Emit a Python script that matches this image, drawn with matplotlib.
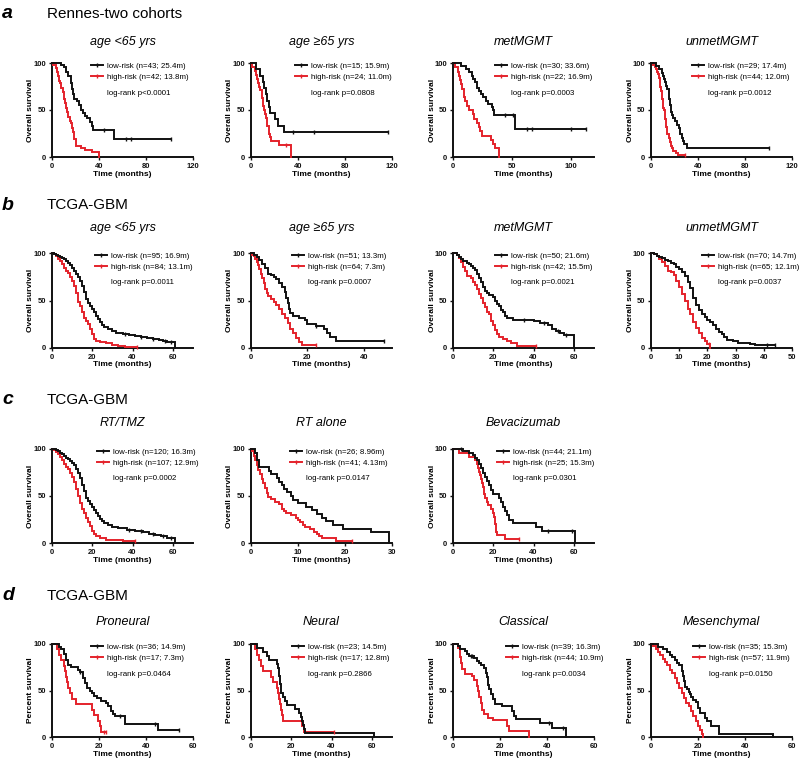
import numpy as np
import matplotlib
matplotlib.use("Agg")
import matplotlib.pyplot as plt
from matplotlib.lines import Line2D

plt.rcParams['font.family'] = ['Liberation Sans', 'DejaVu Sans']

# ---------------- data (time in months, survival in %) ----------------
# Row a: Rennes-two cohorts
a1_low_t = [8, 10, 12, 14, 16, 17, 18, 19, 21, 23, 25, 26, 28, 30, 32, 34, 35, 53]
a1_low_s = [97.7, 95.3, 90.7, 86, 79, 72, 67, 62, 60, 55, 50, 46.5, 44, 41, 37, 33, 29, 19.5]
a1_low_c = [44, 63, 67, 101]
a1_high_t = [1, 3, 4, 5, 6, 7, 8, 9, 10, 11, 12, 13, 14, 15, 16, 17, 18, 19, 20, 25, 28, 34, 40]
a1_high_s = [97.6, 95.2, 90.5, 85.7, 81, 78.6, 73.8, 69, 61.9, 57.1, 52.4, 47.6, 42.9, 38.1, 35.7, 31, 26.2, 19, 11.9, 9.5, 7.1, 4.8, 0]
a1_high_c = []

a2_low_t = [4, 8, 10, 11, 12.5, 13.5, 15, 16, 20, 23, 28]
a2_low_s = [93.3, 86.7, 80, 73.3, 66.7, 60, 53.3, 46.7, 40, 33.3, 26.7]
a2_low_c = [36, 54, 117]
a2_high_t = [1, 3, 4, 5, 6, 7, 8, 9, 9.5, 10, 10.5, 11, 12, 13, 13.5, 14, 15, 15.5, 16, 17, 24, 34]
a2_high_s = [95.8, 91.7, 87.5, 83.3, 79.2, 75, 70.8, 66.7, 62.5, 58.3, 54.2, 50, 45.8, 41.7, 37.5, 33.3, 29.2, 25, 20.8, 16.7, 12.5, 0]
a2_high_c = [30]

a3_low_t = [7, 11, 14, 16, 17, 18.5, 20, 22, 24, 25.5, 28, 30, 33, 34, 35, 53]
a3_low_s = [96.7, 93.3, 90, 86.7, 83.3, 80, 73.3, 70, 66.7, 63.3, 60, 56.7, 53.3, 50, 44.4, 29.6]
a3_low_c = [44, 51, 63, 67, 100, 113]
a3_high_t = [2, 4, 5, 6, 7, 8, 9, 9.5, 10, 12, 14, 17, 18, 20, 22, 23, 25, 32, 34, 36, 39]
a3_high_s = [95.5, 90.9, 86.4, 81.8, 77.3, 72.7, 68.2, 63.6, 59.1, 54.5, 50, 45.5, 40.9, 36.4, 31.8, 27.3, 22.7, 18.2, 13.6, 9.1, 0]
a3_high_c = []

a4_low_t = [4, 7, 9, 10, 11, 12, 13, 14, 15, 15.5, 16, 16.5, 17.4, 18, 19, 20, 22, 24, 25, 26, 27, 28, 31]
a4_low_s = [96.6, 93.1, 89.7, 86.2, 82.8, 79.3, 75.9, 72.4, 69, 62.1, 58.6, 55.2, 48.3, 44.8, 41.4, 37.9, 34.5, 31, 24.1, 20.7, 17.2, 13.8, 9.6]
a4_low_c = [100]
a4_high_t = [2, 3, 4, 5, 6, 7, 7.5, 8, 8.5, 9, 9.5, 10, 10.5, 11, 11.5, 12, 12.5, 13, 13.5, 14, 15, 16, 17, 18, 19, 21, 23]
a4_high_s = [97.7, 95.5, 93.2, 90.9, 88.6, 84.1, 79.5, 75, 70.5, 65.9, 61.4, 56.8, 52.3, 50, 45.5, 40.9, 36.4, 31.8, 29.5, 25, 20.5, 15.9, 11.4, 9.1, 6.8, 4.5, 2.3]
a4_high_c = [29]

# Row b: TCGA-GBM age / MGMT
b1_low_t = [1, 2, 3, 4, 5, 6, 7, 8, 9, 10, 11, 12, 13, 14, 15, 16, 17, 18, 19, 20, 21, 22, 23, 24, 25, 26, 28, 30, 32, 35, 38, 41, 44, 47, 50, 53, 55, 57, 61]
b1_low_s = [99, 98, 97, 95.8, 94.7, 93.7, 91.6, 89.5, 87.4, 84.2, 81, 77.9, 74.7, 70.5, 65.3, 58.9, 51.6, 47.4, 44.2, 41, 37.9, 33.7, 30.5, 27.4, 24.2, 22.1, 20, 17.9, 15.8, 14.7, 13.7, 12.6, 11.5, 10.4, 9.3, 8.2, 7.1, 5.9, 0]
b1_low_c = [36, 44, 50, 56, 59]
b1_high_t = [1, 2, 3, 4, 5, 6, 7, 8, 9, 10, 11, 12, 13, 14, 15, 16, 17, 18, 19, 20, 21, 22, 24, 27, 30, 33, 36]
b1_high_s = [98.8, 96.4, 94, 91.7, 88.1, 84.5, 81, 78.6, 75, 70.2, 65.5, 58.3, 48.8, 44, 38.1, 32.1, 28.6, 25, 20.2, 14.3, 9.5, 7.1, 6, 4.8, 3.6, 2.4, 1.2]
b1_high_c = [42]

b2_low_t = [1, 2, 3, 4, 5, 6, 7, 8, 9, 10, 11, 12, 12.5, 13, 13.5, 14, 15, 17, 19, 20, 23, 26, 27, 28, 30]
b2_low_s = [98, 96.1, 92.2, 88.2, 84.3, 78.4, 76.5, 74.5, 72.5, 68.6, 64.7, 58.8, 52.9, 47.1, 41.2, 37.3, 33.3, 31.4, 29.4, 25.5, 23.5, 19.6, 15.7, 11.8, 7.8]
b2_low_c = [23, 47]
b2_high_t = [0.5, 1, 1.5, 2, 2.5, 3, 3.5, 4, 4.5, 5, 5.5, 6, 7, 8, 9, 10, 11, 12, 13, 14, 15, 16, 17, 18]
b2_high_s = [98.4, 96.9, 93.8, 90.6, 87.5, 82.8, 78.1, 73.4, 68.8, 62.5, 57.8, 54.7, 51.6, 48.4, 45.3, 40.6, 35.9, 31.3, 26.6, 20.3, 15.6, 10.9, 6.3, 3.1]
b2_high_c = [23]

b3_low_t = [2, 3, 4, 5, 7, 8, 9, 10, 11, 12, 13, 14, 15, 16, 17, 18, 20, 21, 22, 23, 24, 25, 26, 27, 30, 40, 43, 47, 49, 51, 53, 55, 60]
b3_low_s = [98, 96, 94, 92, 90, 88, 86, 84, 82, 78, 74, 70, 64, 60, 58, 56, 54, 50, 46, 44, 40, 38, 34, 32, 30, 28, 26, 24, 20, 18, 16, 13.9, 0]
b3_low_c = [35, 45, 52, 56]
b3_high_t = [2, 3, 4, 5, 6, 7, 9, 10, 11, 12, 13, 14, 15, 16, 17, 18, 19, 20, 21, 22, 23, 25, 27, 29, 32]
b3_high_s = [97.6, 95.2, 90.5, 85.7, 81, 76.2, 73.8, 69, 66.7, 61.9, 57.1, 52.4, 47.6, 42.9, 38.1, 35.7, 28.6, 23.8, 19, 14.3, 11.9, 9.5, 7.1, 4.8, 2.4]
b3_high_c = [41]

b4_low_t = [1, 2, 3, 4, 5, 6, 7, 8, 9, 10, 11, 12, 13, 14, 15, 16, 17, 18, 19, 20, 21, 22, 23, 24, 25, 26, 27, 29, 31, 35, 37]
b4_low_s = [98.6, 97.1, 95.7, 94.3, 92.9, 91.4, 90, 88.6, 85.7, 83, 80, 75.7, 70, 62.9, 52.9, 45.7, 40, 35.7, 32.9, 30, 27.1, 24.3, 20, 17.1, 14.3, 11.4, 8.6, 7.1, 5.7, 4.3, 2.9]
b4_low_c = [41, 44]
b4_high_t = [1, 2, 3, 4, 5, 6, 7, 8, 9, 10, 11, 12, 13, 14, 15, 16, 17, 18, 19, 20, 21]
b4_high_s = [98.5, 96.9, 93.8, 90.8, 86.2, 81.5, 80, 76.9, 70.8, 64.6, 56.9, 49.2, 41.5, 35.4, 27.7, 21.5, 15.4, 10.8, 7.7, 4.6, 0]
b4_high_c = [20.5]

# Row c: TCGA-GBM treatment
c1_low_t = [2, 3, 4, 5, 6, 7, 8, 9, 10, 11, 12, 13, 14, 15, 16, 17, 18, 19, 20, 21, 22, 23, 24, 25, 26, 28, 30, 33, 37, 41, 45, 48, 51, 54, 57, 61]
c1_low_s = [99.2, 97.5, 95.8, 94.2, 92.5, 90.8, 89.2, 87.5, 85, 82.5, 79.2, 75, 69.2, 61.7, 55, 48.3, 45, 41.7, 38.3, 35, 31.7, 28.3, 25.8, 23.3, 21.7, 19.2, 17.5, 15.8, 14.2, 12.5, 11.2, 10, 8.3, 7.1, 5.8, 0]
c1_low_c = [38, 44, 50, 55, 59]
c1_high_t = [1, 2, 3, 4, 5, 6, 7, 8, 9, 10, 11, 12, 13, 14, 15, 16, 17, 18, 19, 20, 21, 22, 24, 27, 31, 35]
c1_high_s = [99.1, 97.2, 94.4, 91.6, 87.9, 84.1, 81.3, 78.5, 74.8, 70.1, 64.5, 57, 49.5, 42.1, 36.4, 31.8, 27.1, 22.4, 17.8, 13.1, 9.3, 7.5, 5.6, 3.7, 2.8, 1.9]
c1_high_c = [41]

c2_low_t = [0.8, 1.2, 1.6, 3.8, 4.2, 5.5, 6, 6.5, 7, 7.7, 8.5, 9, 10, 11.8, 13, 14, 15, 16, 17.5, 19.5, 25.5, 29.4]
c2_low_s = [96.2, 88.5, 80.8, 76.9, 73.1, 69.2, 65.4, 61.5, 57.7, 53.8, 50, 46.2, 42.3, 38.5, 34.6, 30.8, 26.9, 23.1, 19.2, 15.4, 11.5, 0]
c2_low_c = []
c2_high_t = [0.3, 0.6, 0.9, 1.2, 1.5, 2, 2.3, 2.6, 3, 3.3, 3.7, 4.2, 5, 6, 6.5, 7, 7.5, 8.5, 9.5, 10, 10.5, 11, 11.5, 12.5, 13.5, 14, 14.5, 15, 18]
c2_high_s = [97.6, 92.7, 87.8, 82.9, 78, 73.2, 68.3, 63.4, 58.5, 53.7, 48.8, 46.3, 43.9, 41.5, 36.6, 34.1, 31.7, 29.3, 26.8, 24.4, 22, 19.5, 17.1, 14.6, 12.2, 9.8, 7.3, 4.9, 2.4]
c2_high_c = [21.5]

c3_low_t = [5, 8, 10, 11, 12, 13, 14, 15, 16, 17, 18, 19, 20, 23, 24, 25, 26, 27, 28, 30, 41, 44, 60.5]
c3_low_s = [97.7, 95.5, 93.2, 90.9, 88.6, 84.1, 79.5, 75, 70.5, 65.9, 61.4, 56.8, 52.3, 47.7, 43.2, 38.6, 34.1, 29.5, 25, 21.6, 17.3, 13, 0]
c3_low_c = [4, 47, 59]
c3_high_t = [3, 8, 11, 12, 12.5, 13, 13.5, 14, 14.5, 15, 15.5, 16, 17, 17.5, 19, 20, 20.5, 21, 21.5, 22, 26]
c3_high_s = [96, 92, 88, 84, 80, 76, 72, 68, 64, 60, 52, 48, 44, 40, 36, 32, 28, 20, 12, 8, 4]
c3_high_c = [33]

# Row d: TCGA-GBM subtypes
d1_low_t = [3, 4, 5, 6, 7, 8, 11, 12, 13, 14, 15, 16, 17, 18, 19, 21, 23, 24, 25, 26, 27, 31, 45]
d1_low_s = [97.2, 94.4, 88.9, 83.3, 77.8, 75, 72.2, 69.4, 63.9, 58.3, 52.8, 50, 47.2, 44.4, 41.7, 38.9, 36.1, 33.3, 27.8, 25, 22.2, 14.3, 7.1]
d1_low_c = [12, 29, 44, 54]
d1_high_t = [2, 3, 4, 5, 5.5, 6, 6.5, 7, 7.5, 8.5, 10, 17, 18, 19.5, 20.5, 21]
d1_high_s = [94.1, 88.2, 82.4, 76.5, 70.6, 64.7, 58.8, 52.9, 47.1, 41.2, 35.3, 29.4, 23.5, 17.6, 11.8, 5.9]
d1_high_c = [22, 23]

d2_low_t = [3, 6, 8, 9, 13, 13.5, 14, 14.5, 15, 16, 17, 18, 22, 24, 25, 25.5, 26, 26.5, 27, 61]
d2_low_s = [95.7, 91.3, 87, 82.6, 78.3, 73.9, 65.2, 56.5, 47.8, 43.5, 39.1, 34.8, 30.4, 26.1, 21.7, 17.4, 13, 8.7, 4.3, 0]
d2_low_c = []
d2_high_t = [2, 3, 4, 5, 6, 10, 11, 13, 13.5, 14, 14.5, 15, 15.5, 16, 25.5, 26.5]
d2_high_s = [94.1, 88.2, 82.4, 76.5, 70.6, 64.7, 58.8, 52.9, 47.1, 41.2, 35.3, 29.4, 23.5, 17.6, 11.8, 5.9]
d2_high_c = [41]

d3_low_t = [2, 3, 5, 6, 7, 9, 10, 11, 12, 13, 14, 14.5, 15, 15.5, 16, 17, 18, 21, 25, 26, 27, 37, 42, 48]
d3_low_s = [97.4, 94.9, 92.3, 89.7, 87.2, 84.6, 82.1, 79.5, 76.9, 74.4, 69.2, 64.1, 56.4, 51.3, 46.2, 41, 35.9, 33.3, 28.2, 23.1, 19.2, 15, 9.5, 0]
d3_low_c = [7.5, 8, 41, 47]
d3_high_t = [2, 3, 3.5, 4, 5, 8, 9, 10, 10.5, 11, 12, 12.5, 13, 15, 17, 23, 23.8, 32.5]
d3_high_s = [95.5, 86.4, 79.5, 72.7, 68.2, 65.9, 61.4, 54.5, 50, 43.2, 36.4, 29.5, 25, 20.5, 18.2, 11.4, 6.8, 0]
d3_high_c = []

d4_low_t = [3, 5, 7, 8, 9, 10, 11, 12, 13, 13.5, 14, 14.5, 15.5, 16, 16.5, 17, 18, 19, 20, 21, 23, 24, 25.5, 29, 52]
d4_low_s = [97.1, 94.3, 91.4, 88.6, 85.7, 82.9, 80, 77.1, 71.4, 65.7, 60, 54.3, 51.4, 48.6, 45.7, 42.9, 40, 37.1, 31.4, 25.7, 20, 17.1, 11.4, 2.9, 0]
d4_low_c = []
d4_high_t = [1, 2, 3, 4, 5, 6, 7, 8, 9, 10, 11, 12, 13, 14, 15, 16, 17, 18, 19, 20, 21, 21.5, 22]
d4_high_s = [98.2, 94.7, 91.2, 87.7, 84.2, 80.7, 77.2, 71.9, 68.4, 63.2, 57.9, 52.6, 47.4, 42.1, 36.8, 33.3, 28.1, 22.8, 17.5, 12.3, 7, 3.5, 0]
d4_high_c = []

# ---------------- text ----------------
row_letters = ['a', 'b', 'c', 'd']
row_headers = ['Rennes-two cohorts', 'TCGA-GBM', 'TCGA-GBM', 'TCGA-GBM']
titles = ['age <65 yrs', 'age \u226565 yrs', 'metMGMT', 'unmetMGMT',
          'age <65 yrs', 'age \u226565 yrs', 'metMGMT', 'unmetMGMT',
          'RT/TMZ', 'RT alone', 'Bevacizumab',
          'Proneural', 'Neural', 'Classical', 'Mesenchymal']
low_labels = ['low-risk (n=43; 25.4m)', 'low-risk (n=15; 15.9m)', 'low-risk (n=30; 33.6m)', 'low-risk (n=29; 17.4m)',
              'low-risk (n=95; 16.9m)', 'low-risk (n=51; 13.3m)', 'low-risk (n=50; 21.6m)', 'low-risk (n=70; 14.7m)',
              'low-risk (n=120; 16.3m)', 'low-risk (n=26; 8.96m)', 'low-risk (n=44; 21.1m)',
              'low-risk (n=36; 14.9m)', 'low-risk (n=23; 14.5m)', 'low-risk (n=39; 16.3m)', 'low-risk (n=35; 15.3m)']
high_labels = ['high-risk (n=42; 13.8m)', 'high-risk (n=24; 11.0m)', 'high-risk (n=22; 16.9m)', 'high-risk (n=44; 12.0m)',
               'high-risk (n=84; 13.1m)', 'high-risk (n=64; 7.3m)', 'high-risk (n=42; 15.5m)', 'high-risk (n=65; 12.1m)',
               'high-risk (n=107; 12.9m)', 'high-risk (n=41; 4.13m)', 'high-risk (n=25; 15.3m)',
               'high-risk (n=17; 7.3m)', 'high-risk (n=17; 12.8m)', 'high-risk (n=44; 10.9m)', 'high-risk (n=57; 11.9m)']
pvals = ['log-rank p<0.0001', 'log-rank p=0.0808', 'log-rank p=0.0003', 'log-rank p=0.0012',
         'log-rank p=0.0011', 'log-rank p=0.0007', 'log-rank p=0.0021', 'log-rank p=0.0037',
         'log-rank p=0.0002', 'log-rank p=0.0147', 'log-rank p=0.0301',
         'log-rank p=0.0464', 'log-rank p=0.2866', 'log-rank p=0.0034', 'log-rank p=0.0150']
x_max = [120, 120, 120, 120, 70, 50, 70, 50, 70, 30, 70, 60, 70, 60, 60]
x_ticks = [[0, 40, 80, 120], [0, 40, 80, 120], [0, 50, 100], [0, 40, 80, 120],
           [0, 20, 40, 60], [0, 20, 40], [0, 20, 40, 60], [0, 10, 20, 30, 40, 50],
           [0, 20, 40, 60], [0, 10, 20, 30], [0, 20, 40, 60],
           [0, 20, 40, 60], [0, 20, 40, 60], [0, 20, 40, 60], [0, 20, 40, 60]]
y_labels = ['Overall survival'] * 11 + ['Percent survival'] * 4

curves = [
    (a1_low_t, a1_low_s, a1_low_c, a1_high_t, a1_high_s, a1_high_c),
    (a2_low_t, a2_low_s, a2_low_c, a2_high_t, a2_high_s, a2_high_c),
    (a3_low_t, a3_low_s, a3_low_c, a3_high_t, a3_high_s, a3_high_c),
    (a4_low_t, a4_low_s, a4_low_c, a4_high_t, a4_high_s, a4_high_c),
    (b1_low_t, b1_low_s, b1_low_c, b1_high_t, b1_high_s, b1_high_c),
    (b2_low_t, b2_low_s, b2_low_c, b2_high_t, b2_high_s, b2_high_c),
    (b3_low_t, b3_low_s, b3_low_c, b3_high_t, b3_high_s, b3_high_c),
    (b4_low_t, b4_low_s, b4_low_c, b4_high_t, b4_high_s, b4_high_c),
    (c1_low_t, c1_low_s, c1_low_c, c1_high_t, c1_high_s, c1_high_c),
    (c2_low_t, c2_low_s, c2_low_c, c2_high_t, c2_high_s, c2_high_c),
    (c3_low_t, c3_low_s, c3_low_c, c3_high_t, c3_high_s, c3_high_c),
    (d1_low_t, d1_low_s, d1_low_c, d1_high_t, d1_high_s, d1_high_c),
    (d2_low_t, d2_low_s, d2_low_c, d2_high_t, d2_high_s, d2_high_c),
    (d3_low_t, d3_low_s, d3_low_c, d3_high_t, d3_high_s, d3_high_c),
    (d4_low_t, d4_low_s, d4_low_c, d4_high_t, d4_high_s, d4_high_c),
]

# ---------------- layout (pixels) ----------------
W, H = 800, 760
grid = [(0, 0), (0, 1), (0, 2), (0, 3), (1, 0), (1, 1), (1, 2), (1, 3),
        (2, 0), (2, 1), (2, 2), (3, 0), (3, 1), (3, 2), (3, 3)]
col_x = [52, 251, 453, 651]
row_top = [63, 253, 449, 644]
row_bot = [157, 348, 543, 737]
title_gap = [21, 25, 26, 22]
row_head_y = [14, 205, 400, 596]
leg_x = [0.277, 0.31, 0.30, 0.29, 0.305, 0.29, 0.30, 0.36, 0.32, 0.28, 0.31, 0.28, 0.29, 0.375, 0.30]
AW = 141

BLACK = '#111111'
RED = '#e4222b'
LW = 1.4

fig = plt.figure(figsize=(W / 100, H / 100), dpi=100)
fig.patch.set_facecolor('white')

for r in range(4):
    fig.text(2 / W, 1 - row_head_y[r] / H, row_letters[r], fontsize=14, fontweight='bold',
             fontstyle='italic', ha='left', va='center')
    fig.text(47 / W, 1 - row_head_y[r] / H, row_headers[r], fontsize=11, ha='left', va='center')


def draw_km(ax, t, s, cens, color):
    tt = np.concatenate([[0.0], np.asarray(t, float)])
    ss = np.concatenate([[100.0], np.asarray(s, float)])
    end = max(tt[-1], max(cens) if len(cens) else 0)
    xs = np.append(tt, end)
    ys = np.append(ss, ss[-1])
    ax.step(xs, ys, where='post', color=color, lw=LW, clip_on=False, zorder=3,
            solid_joinstyle='miter')
    if len(cens):
        c = np.asarray(cens, float)
        idx = np.searchsorted(tt, c, side='right') - 1
        ax.plot(c, ss[idx], ls='none', marker='|', ms=3.5, mew=1.0, color=color,
                clip_on=False, zorder=4)


for i, (r, cidx) in enumerate(grid):
    top, bot = row_top[r], row_bot[r]
    h = bot - top
    ax = fig.add_axes([col_x[cidx] / W, 1 - bot / H, AW / W, h / H])
    lt, ls_, lc, ht, hs, hc = curves[i]
    draw_km(ax, ht, hs, hc, RED)
    draw_km(ax, lt, ls_, lc, BLACK)
    ax.set_xlim(0, x_max[i])
    ax.set_ylim(0, 100)
    ax.set_xticks(x_ticks[i])
    ax.set_yticks([0, 50, 100])
    for sp in ['top', 'right']:
        ax.spines[sp].set_visible(False)
    for sp in ['left', 'bottom']:
        ax.spines[sp].set_linewidth(1.4)
        ax.spines[sp].set_color(BLACK)
    ax.tick_params(direction='out', length=2.5, width=1.0, labelsize=5.5, pad=1.5, colors=BLACK)
    for lab in ax.get_xticklabels() + ax.get_yticklabels():
        lab.set_fontweight('bold')
    ax.set_facecolor('none')
    # axis labels
    ax.text(-21 / AW, 0.5, y_labels[i], transform=ax.transAxes, rotation=90,
            ha='center', va='center', fontsize=6, fontweight='bold')
    ax.text(0.5, -17 / h, 'Time (months)', transform=ax.transAxes,
            ha='center', va='center', fontsize=6, fontweight='bold')
    # title
    ax.text(0.5, 1 + title_gap[r] / h, titles[i], transform=ax.transAxes,
            ha='center', va='center', fontsize=9, fontstyle='italic')
    # legend
    handles = [Line2D([], [], color=BLACK, lw=LW, marker='|', ms=3.5, mew=1.0),
               Line2D([], [], color=RED, lw=LW, marker='|', ms=3.5, mew=1.0)]
    ax.legend(handles, [low_labels[i], high_labels[i]], loc='upper left',
              bbox_to_anchor=(leg_x[i], 1.01), frameon=False, fontsize=5.7,
              handlelength=1.5, handletextpad=0.5, labelspacing=0.45,
              borderpad=0, borderaxespad=0)
    ax.text(leg_x[i] + 0.112, 1 - 30 / h, pvals[i], transform=ax.transAxes,
            ha='left', va='center', fontsize=5.7)

fig.savefig('out.png', dpi=100, facecolor='white')
